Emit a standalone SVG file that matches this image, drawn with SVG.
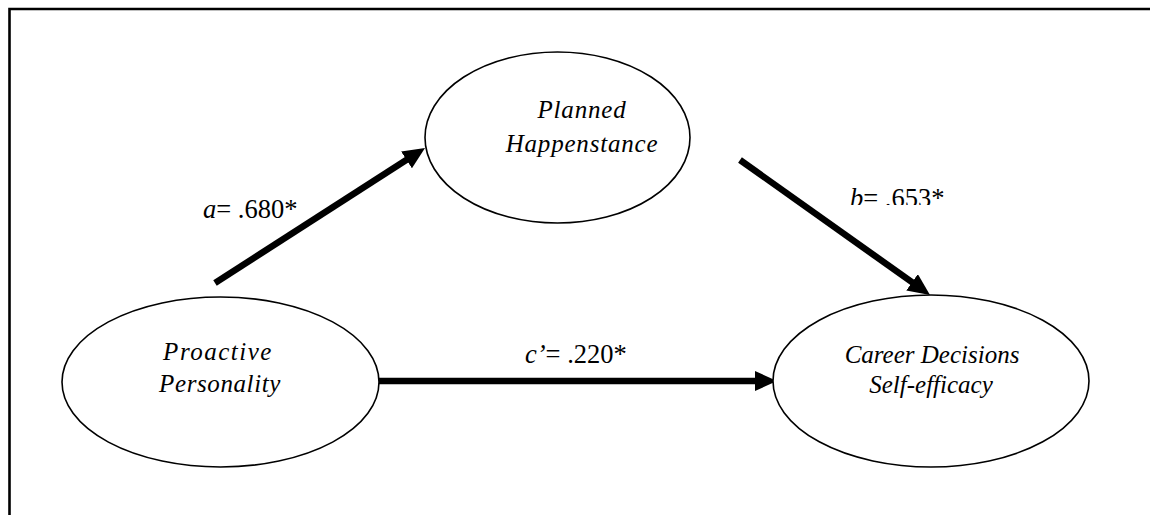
<svg xmlns="http://www.w3.org/2000/svg" width="1150" height="515" viewBox="0 0 1150 515">
<style>
.node{fill:#fff;stroke:#000;stroke-width:1.6}
.nt{font-family:"Liberation Serif","Times New Roman",serif;font-style:italic;font-size:25px;fill:#000;text-anchor:middle}
.lab{font-family:"Liberation Serif","Times New Roman",serif;font-size:26.5px;fill:#000}
.conn{stroke:#000;stroke-width:6.5;fill:none}
</style>
<defs>
<marker id="ah" viewBox="0 0 22 20" refX="2" refY="10" markerWidth="22" markerHeight="20" markerUnits="userSpaceOnUse" orient="auto">
<path d="M0,0 L22,10 L0,20 z" fill="#000"/>
</marker>
<clipPath id="bclip"><rect x="800" y="150" width="200" height="55"/></clipPath>
</defs>
<rect x="0" y="0" width="1150" height="515" fill="#fff"/>
<path d="M9.5,515 V9 H1150" fill="none" stroke="#000" stroke-width="2.6"/>
<g id="connectors">
<line class="conn" x1="215" y1="283" x2="408.2" y2="158.8" marker-end="url(#ah)"/>
<line class="conn" x1="740" y1="160" x2="913.7" y2="283.4" marker-end="url(#ah)"/>
<line class="conn" x1="378" y1="381" x2="757" y2="381" marker-end="url(#ah)"/>
<text class="lab" x="203" y="218"><tspan font-style="italic">a</tspan>= .680*</text>
<text class="lab" x="850" y="207" clip-path="url(#bclip)"><tspan font-style="italic">b</tspan>= .653*</text>
<text class="lab" x="525" y="363"><tspan font-style="italic">c’</tspan>= .220*</text>
</g>
<g id="planned">
<ellipse class="node" cx="557.5" cy="137.5" rx="132.5" ry="85.5"/>
<text class="nt" x="582" y="118" letter-spacing="0.8">Planned</text>
<text class="nt" x="582" y="152" letter-spacing="0.8">Happenstance</text>
</g>
<g id="proactive">
<ellipse class="node" cx="220.5" cy="382" rx="158.5" ry="85"/>
<text class="nt" x="218" y="360" letter-spacing="1.5">Proactive</text>
<text class="nt" x="220" y="392" letter-spacing="0.6">Personality</text>
</g>
<g id="career">
<ellipse class="node" cx="931" cy="381" rx="158" ry="86"/>
<text class="nt" x="932" y="363" font-size="23.5">Career Decisions</text>
<text class="nt" x="931" y="393" font-size="23.5">Self-efficacy</text>
</g>
</svg>
